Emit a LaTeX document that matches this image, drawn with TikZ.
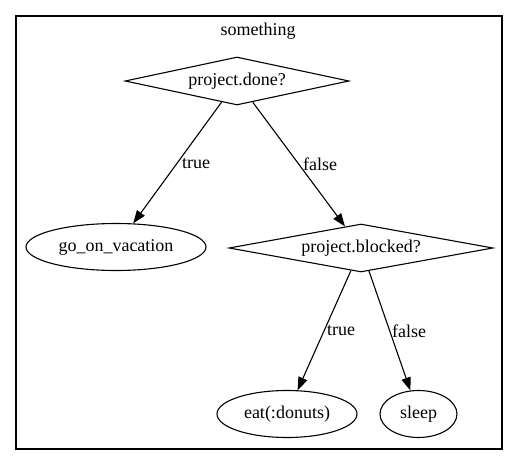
\documentclass[tikz,border=0pt]{standalone}
\usepackage{fontspec}
\setmainfont{Liberation Serif}
\usetikzlibrary{shapes.geometric,arrows.meta}
\begin{document}
\begin{tikzpicture}[x=1pt,y=-1pt,
  every node/.style={font=\fontsize{18}{20}\selectfont, inner sep=0pt},
  decision/.style={draw, diamond, line width=1.1pt, minimum width=#1, minimum height=48pt, aspect=4.6},
  terminal/.style={draw, ellipse, line width=1.1pt, minimum height=47pt},
  flow/.style={draw, line width=1.1pt, -{Triangle[length=13pt,width=9.5pt]}},
  lbl/.style={fill=none}]
\useasboundingbox (0,0) rectangle (517,465);
\draw[line width=1.1pt] (16,16) rectangle (502,449);
\node (title) at (258,31) {something};
\node[decision=224pt] (d1) at (237,81) {project.done?};
\node[decision=264pt] (d2) at (361,248) {project.blocked?};
\node[terminal, minimum width=180pt] (gv) at (116,247) {go\_on\_vacation};
\node[terminal, minimum width=140pt] (eat) at (287,414) {eat(:donuts)};
\node[terminal, minimum width=77pt] (sl) at (418.5,414) {sleep};
\draw[flow] (d1) -- (gv);
\draw[flow] (d1) -- (d2);
\draw[flow] (d2) -- (eat);
\draw[flow] (d2) -- (sl);
\node[lbl] (l1) at (196,164) {true};
\node[lbl] (l2) at (320,164) {false};
\node[lbl] (l3) at (341,331) {true};
\node[lbl] (l4) at (409,331) {false};
\end{tikzpicture}
\end{document}
